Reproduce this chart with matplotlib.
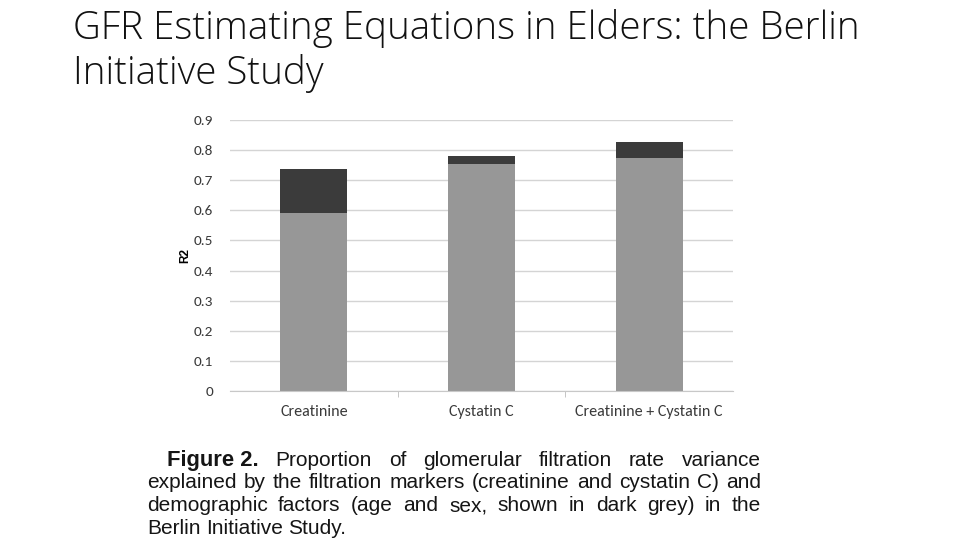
import matplotlib
matplotlib.use("Agg")
import matplotlib.pyplot as plt
from matplotlib import font_manager

categories = ["Creatinine", "Cystatin C", "Creatinine + Cystatin C"]
marker_r2 = [0.59, 0.755, 0.775]
demographic_r2 = [0.148, 0.024, 0.053]
yticks = [0, 0.1, 0.2, 0.3, 0.4, 0.5, 0.6, 0.7, 0.8, 0.9]
ytick_labels = ["0", "0.1", "0.2", "0.3", "0.4", "0.5", "0.6", "0.7", "0.8", "0.9"]

title_lines = ["GFR Estimating Equations in Elders: the Berlin", "Initiative Study"]
caption_lines = [
    ["Figure 2.", "Proportion", "of", "glomerular", "filtration", "rate", "variance"],
    ["explained", "by", "the", "filtration", "markers", "(creatinine", "and", "cystatin", "C)", "and"],
    ["demographic", "factors", "(age", "and", "sex,", "shown", "in", "dark", "grey)", "in", "the"],
    ["Berlin", "Initiative", "Study."],
]

avail = {f.name for f in font_manager.fontManager.ttflist}


def pick(*names):
    for n in names:
        if n in avail:
            return n
    return "DejaVu Sans"


title_font = pick("Open Sans", "DejaVu Sans")
tick_font = pick("Carlito", "Open Sans")
cap_font = pick("Liberation Sans", "Arimo", "DejaVu Sans")

fig = plt.figure(figsize=(9.6, 5.4), dpi=100)
fig.patch.set_facecolor("white")
fig.canvas.draw()
renderer = fig.canvas.get_renderer()

# title, scaled so that line 1 spans close to the reference width
title_baselines = [39, 84]
tfs = 23
t1 = fig.text(73 / 960, 1 - title_baselines[0] / 540, title_lines[0], ha="left", va="baseline",
              fontsize=tfs, family=title_font, weight="light", color="#111111")
w = t1.get_window_extent(renderer).width
tfs = tfs * 790 / w
t1.set_fontsize(tfs)
fig.text(73 / 960, 1 - title_baselines[1] / 540, title_lines[1], ha="left", va="baseline",
         fontsize=tfs, family=title_font, weight="light", color="#111111")

ax = fig.add_axes([230 / 960, 1 - 391 / 540, 503 / 960, 271 / 540])
x = range(len(categories))
ax.bar(x, marker_r2, width=0.4, color="#979797", zorder=2)
ax.bar(x, demographic_r2, bottom=marker_r2, width=0.4, color="#3b3b3b", zorder=2)
ax.set_xlim(-0.5, 2.5)
ax.set_ylim(0, 0.9)
ax.set_yticks(yticks)
ax.set_yticklabels(ytick_labels, family=tick_font, fontsize=11, color="#3a3a3a")
ax.set_xticks(list(x))
ax.set_xticklabels(categories, family=tick_font, fontsize=11.5, color="#3a3a3a")
ax.tick_params(axis="y", length=0, pad=12)
ax.tick_params(axis="x", length=0, pad=10)
ax.set_xticks([0.5, 1.5], minor=True)
ax.tick_params(axis="x", which="minor", length=4, color="#bbbbbb")
ax.yaxis.grid(True, color="#d4d4d4", linewidth=1, zorder=0)
for s in ["top", "right", "left"]:
    ax.spines[s].set_visible(False)
ax.spines["bottom"].set_color("#c8c8c8")
ax.set_ylabel("R2", fontsize=8.5, weight="bold", family="Liberation Sans", labelpad=2)

# justified caption (first line indented)
right_px = 761
lefts = [167, 147, 147, 147]
baselines = [466, 488.5, 511, 533.5]
fs = 15
for i, words in enumerate(caption_lines):
    texts = []
    for j, wd in enumerate(words):
        bold = (i == 0 and j == 0)
        t = fig.text(0, 1 - baselines[i] / 540, wd, ha="left", va="baseline",
                     fontsize=fs + (0.8 if bold else 0), family=cap_font,
                     weight="bold" if bold else "normal", color="#151515")
        texts.append(t)
    widths = [t.get_window_extent(renderer).width for t in texts]
    if i < len(caption_lines) - 1:
        gap = (right_px - lefts[i] - sum(widths)) / (len(words) - 1)
    else:
        gap = fs * 100 / 72 * 0.26
    xpos = lefts[i]
    for t, wdt in zip(texts, widths):
        t.set_x(xpos / 960)
        xpos += wdt + gap

fig.savefig("out.png", dpi=100)
